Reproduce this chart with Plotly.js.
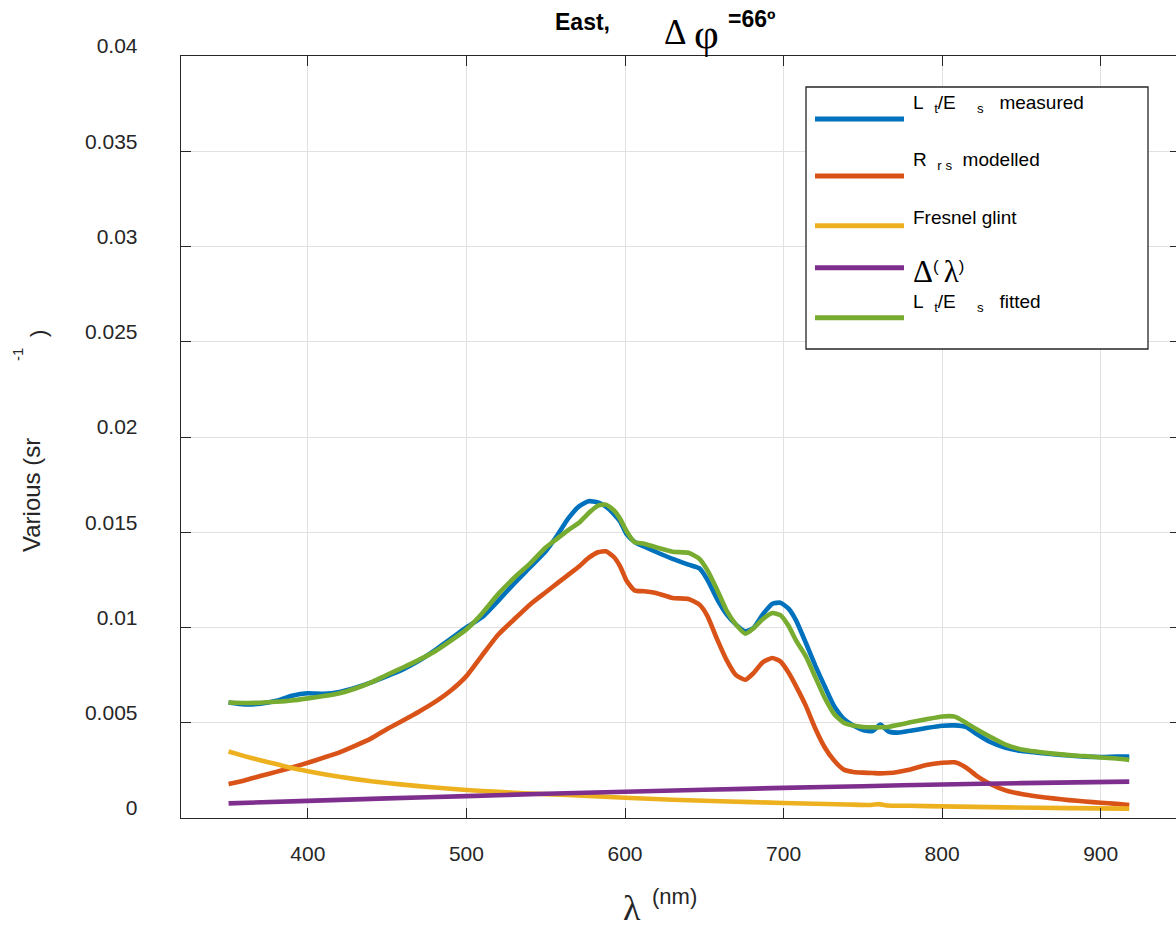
<!DOCTYPE html>
<html>
<head>
<meta charset="utf-8">
<script src="https://cdn.plot.ly/plotly-3.0.1.min.js"></script>
<style>
html, body { margin: 0; padding: 0; overflow: hidden; background: #fff; }
#chart { width: 1180px; height: 927px; }
</style>
</head>
<body>
<div id="chart"></div>
<script>
// ---------------- data ----------------
const wavelength = [350,360,370,380,390,400,410,420,430,440,450,460,470,480,490,500,510,520,530,540,550,557,564,571,577,583,588,593,597,601,606,612,620,630,640,647,652,658,664,670,676,681,687,693,698,703,708,714,720,726,732,738,744,750,756,761,766,772,780,790,800,808,815,822,830,840,850,860,870,880,890,900,910,918];

const ltEsMeasured = [0.00606,0.00596,0.00600,0.00615,0.00642,0.00655,0.00652,0.00662,0.00684,0.00712,0.00745,0.00780,0.00825,0.00880,0.00940,0.01000,0.01055,0.01140,0.01230,0.01315,0.01400,0.01480,0.01570,0.01636,0.01663,0.01657,0.01634,0.01595,0.01555,0.01490,0.01450,0.01425,0.01395,0.01360,0.01330,0.01310,0.01250,0.01150,0.01070,0.01015,0.00980,0.00997,0.01070,0.01125,0.01130,0.01100,0.01035,0.00920,0.00800,0.00690,0.00585,0.00520,0.00485,0.00462,0.00456,0.00490,0.00455,0.00448,0.00458,0.00472,0.00484,0.00486,0.00478,0.00440,0.00400,0.00368,0.00352,0.00343,0.00335,0.00328,0.00322,0.00320,0.00322,0.00322];

const rrsModelled = [0.00179,0.00197,0.00220,0.00242,0.00265,0.00290,0.00317,0.00345,0.00380,0.00418,0.00467,0.00512,0.00558,0.00608,0.00668,0.00745,0.00855,0.00962,0.01042,0.01120,0.01185,0.01230,0.01275,0.01320,0.01365,0.01395,0.01400,0.01370,0.01320,0.01245,0.01195,0.01190,0.01180,0.01155,0.01150,0.01120,0.01060,0.00940,0.00830,0.00750,0.00726,0.00760,0.00818,0.00840,0.00822,0.00765,0.00690,0.00590,0.00470,0.00370,0.00300,0.00254,0.00242,0.00238,0.00236,0.00234,0.00236,0.00242,0.00255,0.00278,0.00290,0.00292,0.00265,0.00220,0.00180,0.00145,0.00126,0.00113,0.00103,0.00094,0.00087,0.00080,0.00074,0.00068];

const ltEsFitted = [0.00606,0.00604,0.00605,0.00610,0.00617,0.00628,0.00640,0.00655,0.00680,0.00712,0.00752,0.00790,0.00830,0.00874,0.00930,0.00990,0.01075,0.01175,0.01260,0.01335,0.01420,0.01465,0.01510,0.01550,0.01600,0.01640,0.01645,0.01615,0.01570,0.01505,0.01448,0.01440,0.01420,0.01398,0.01392,0.01360,0.01300,0.01200,0.01090,0.01015,0.00967,0.00995,0.01045,0.01076,0.01065,0.01010,0.00930,0.00850,0.00740,0.00630,0.00545,0.00500,0.00485,0.00478,0.00476,0.00476,0.00478,0.00488,0.00502,0.00518,0.00533,0.00532,0.00500,0.00465,0.00428,0.00385,0.00360,0.00348,0.00338,0.00330,0.00325,0.00318,0.00312,0.00305];

const glintWavelength = [350,360,370,380,390,400,420,440,460,480,500,520,540,560,580,600,630,660,700,740,755,760,765,780,800,840,880,918];
const fresnelGlint = [0.00349,0.00325,0.00303,0.00283,0.00262,0.00245,0.00216,0.00193,0.00175,0.00160,0.00147,0.00137,0.00129,0.00122,0.00115,0.00106,0.00096,0.00088,0.00079,0.00071,0.00068,0.00073,0.00066,0.00064,0.00061,0.00056,0.00052,0.00049];

const deltaWavelength = [350,400,450,500,550,600,650,700,750,800,850,918];
const deltaLambda = [0.00077,0.00090,0.00103,0.00115,0.00127,0.00138,0.00148,0.00158,0.00167,0.00176,0.00183,0.00191];

const seriesNames = [
  "L<sub>t</sub>/E<sub>s</sub> measured",
  "R<sub>rs</sub> modelled",
  "Fresnel glint",
  "Δ(λ)",
  "L<sub>t</sub>/E<sub>s</sub> fitted"
];
const NB = "\u00A0";
const legendLabels = [
  "L" + NB + NB + "<sub>t</sub>/E" + NB + NB + NB + NB + "<sub>s</sub>" + NB + NB + NB + "measured",
  "R" + NB + NB + "<sub>r s</sub>" + NB + NB + "modelled",
  "Fresnel glint",
  "<span style=\"font-family:'Liberation Serif',serif;font-size:31px\">Δ</span><span style=\"font-size:24px\"><sup>(</sup></span>" + NB + "<span style=\"font-family:'Liberation Serif',serif;font-size:31px\">λ</span><span style=\"font-size:24px\"><sup>)</sup></span>",
  "L" + NB + NB + "<sub>t</sub>/E" + NB + NB + NB + NB + "<sub>s</sub>" + NB + NB + NB + "fitted"
];
const seriesColors = ["#0072BD", "#D95319", "#EDB120", "#7E2F8E", "#77AC30"];

const xTickVals = [400, 500, 600, 700, 800, 900];
const xTickText = ["400", "500", "600", "700", "800", "900"];
const yTickVals = [0, 0.005, 0.01, 0.015, 0.02, 0.025, 0.03, 0.035, 0.04];
const yTickText = ["0", "0.005", "0.01", "0.015", "0.02", "0.025", "0.03", "0.035", "0.04"];

// ---------------- layout helpers ----------------
const W = 1180, H = 927;
const M = { l: 181, r: 0, t: 56, b: 109 };
const PW = W - M.l - M.r, PH = H - M.t - M.b;
const px = v => (v - M.l) / PW;
const py = v => (H - M.b - v) / PH;
const FONT = "'Liberation Sans', Arial, sans-serif";
const SERIF = "'Liberation Serif', 'Times New Roman', serif";
const INK = "#262626";
const LW = 4.6;

const seriesX = [wavelength, wavelength, glintWavelength, deltaWavelength, wavelength];
const seriesY = [ltEsMeasured, rrsModelled, fresnelGlint, deltaLambda, ltEsFitted];

const traces = seriesY.map((y, i) => ({
  type: "scatter", mode: "lines",
  x: seriesX[i], y: y, name: seriesNames[i],
  line: { color: seriesColors[i], width: LW, shape: "spline", smoothing: 0.5 },
  showlegend: false, hoverinfo: "skip"
}));

function ann(text, x, y, opts) {
  return Object.assign({
    text: text, xref: "paper", yref: "paper", x: px(x), y: py(y),
    xanchor: "center", yanchor: "middle", showarrow: false,
    font: { family: FONT, size: 21, color: INK }
  }, opts || {});
}

const annotations = [
  ann("<b>East,</b>", 582, 22, { font: { family: FONT, size: 23, color: "#000" } }),
  ann("Δ", 675, 32, { font: { family: SERIF, size: 35, color: "#000" } }),
  ann("φ", 706, 34, { font: { family: SERIF, size: 43, color: "#000" } }),
  ann("<b>=66º</b>", 751, 19, { font: { family: FONT, size: 23, color: "#000" } }),
  ann("Various (sr", 31, 495, { textangle: -90, font: { family: FONT, size: 24, color: INK } }),
  ann("-1", 17, 355, { textangle: -90, font: { family: FONT, size: 15, color: INK } }),
  ann(")", 38, 334, { textangle: -90, font: { family: FONT, size: 22, color: INK } }),
  ann("λ", 632, 908, { font: { family: SERIF, size: 36, color: INK } }),
  ann("(nm)", 674, 896, { font: { family: FONT, size: 22, color: INK } })
];

const legendTextY = [104, 161, 217, 271, 303];
const legendLineY = [119, 176, 225.7, 267.7, 317.7];
const shapes = [{
  type: "rect", xref: "paper", yref: "paper",
  x0: px(806), x1: px(1148), y0: py(87), y1: py(349),
  line: { color: INK, width: 1.3 }, fillcolor: "#fff", layer: "above"
}];
for (let i = 0; i < seriesNames.length; i++) {
  shapes.push({
    type: "line", xref: "paper", yref: "paper",
    x0: px(815), x1: px(904), y0: py(legendLineY[i]), y1: py(legendLineY[i]),
    line: { color: seriesColors[i], width: 5 }, layer: "above"
  });
  annotations.push(ann(legendLabels[i], 911, legendTextY[i], {
    xanchor: "left", font: { family: FONT, size: 19, color: "#000" }
  }));
}

const axisCommon = {
  showline: true, mirror: "ticks", linecolor: INK, linewidth: 1.3,
  ticks: "inside", ticklen: 10, tickwidth: 1, tickcolor: INK,
  showgrid: true, gridcolor: "#e1e1e1", gridwidth: 1,
  zeroline: false, tickmode: "array",
  tickfont: { family: FONT, size: 21, color: INK }
};

const layout = {
  width: W, height: H, autosize: false,
  margin: M,
  paper_bgcolor: "#fff", plot_bgcolor: "#fff",
  showlegend: false,
  xaxis: Object.assign({}, axisCommon, {
    range: [320, 950], tickvals: xTickVals, ticktext: xTickText,
    ticklabelstandoff: 16
  }),
  yaxis: Object.assign({}, axisCommon, {
    range: [0, 0.04], tickvals: yTickVals, ticktext: yTickText,
    ticklabelstandoff: 38, ticklabelshift: -10
  }),
  annotations: annotations,
  shapes: shapes
};

Plotly.newPlot("chart", traces, layout, { displayModeBar: false, staticPlot: true });
</script>
</body>
</html>
